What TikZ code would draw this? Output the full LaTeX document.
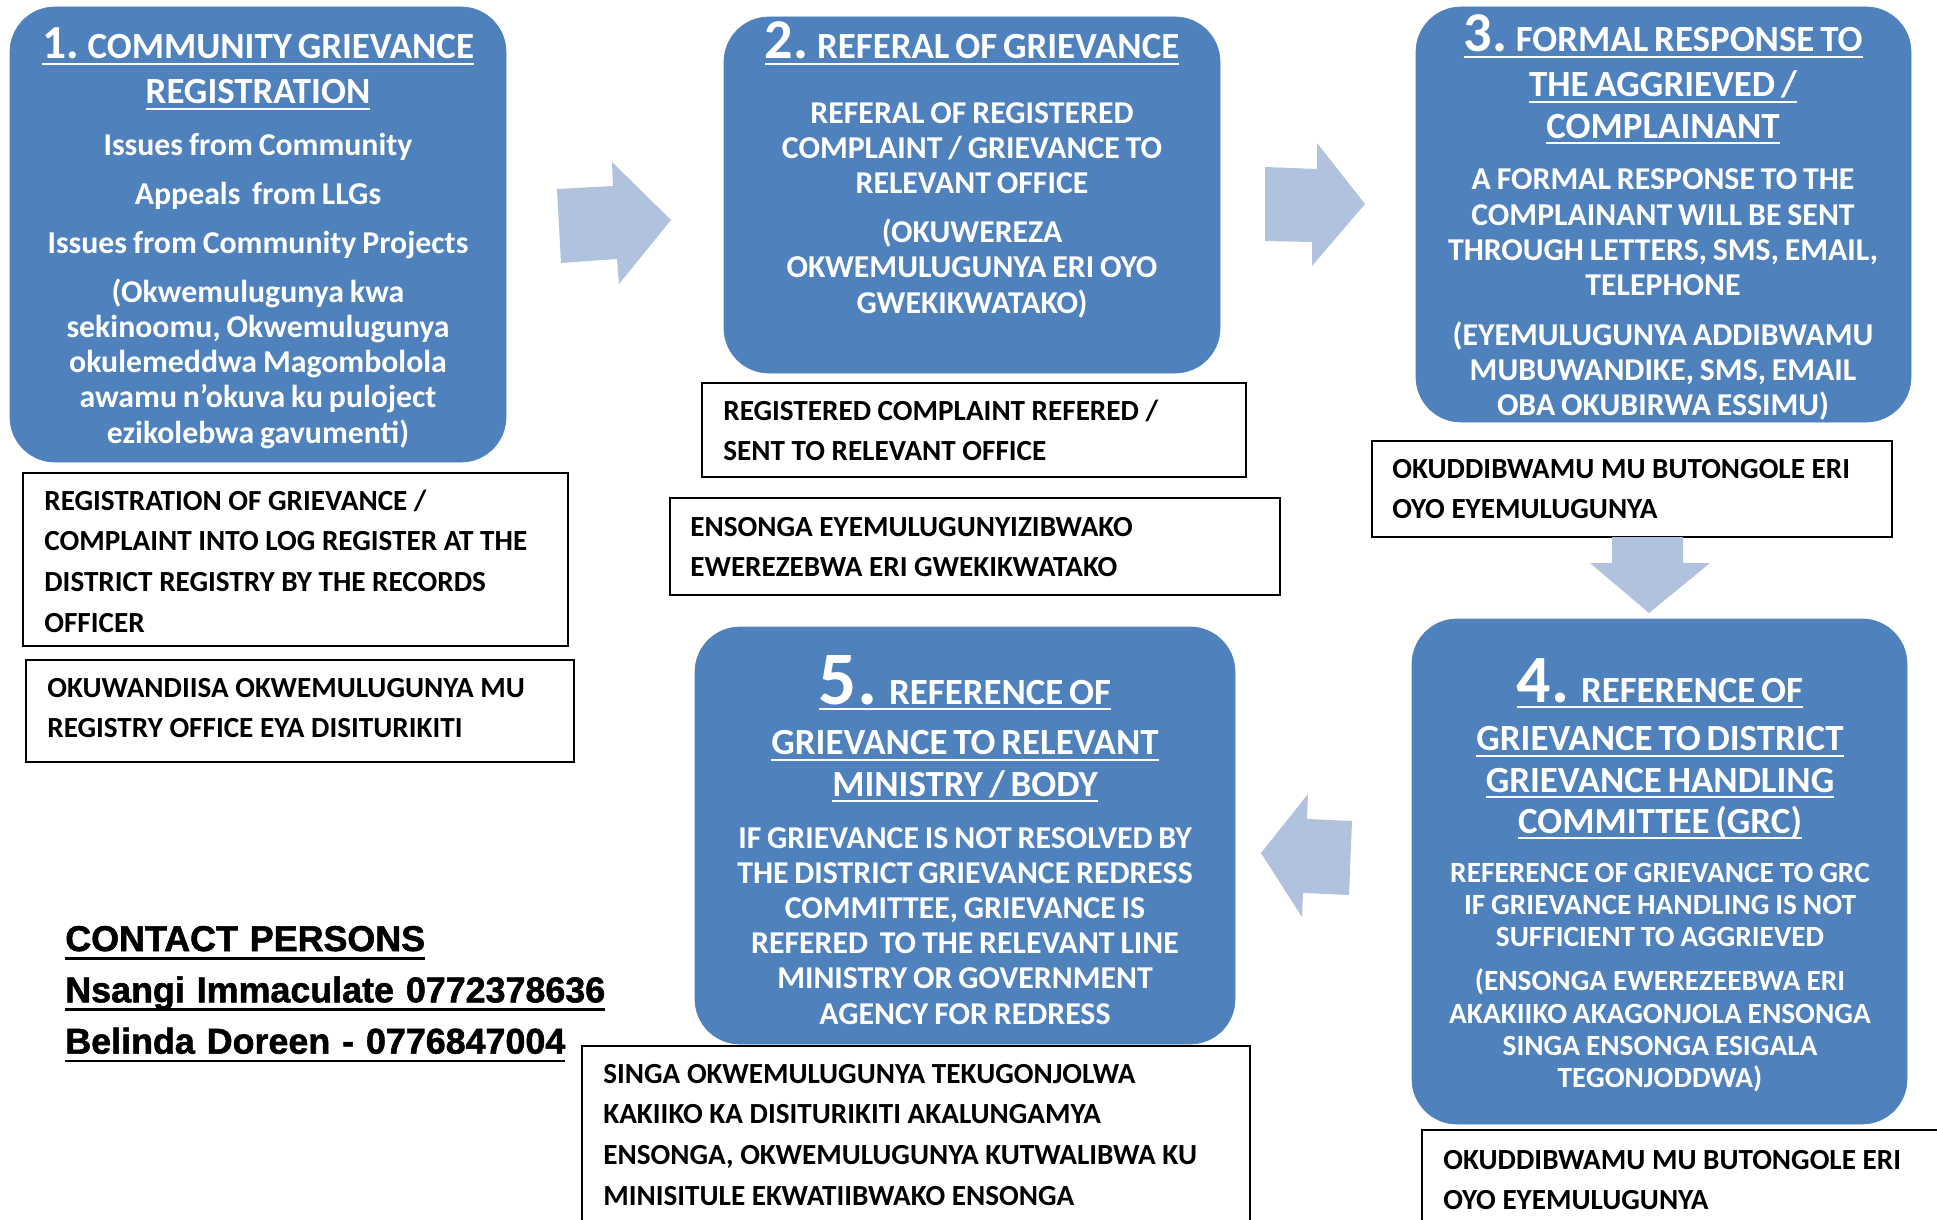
\documentclass[tikz,border=0pt]{standalone}
\usepackage{fontspec}
\setmainfont{Carlito}
\newfontfamily\contactfont{Liberation Sans}[BoldFeatures={FakeBold=1.5}]
\usetikzlibrary{fit}
\definecolor{boxblue}{RGB}{79,129,189}
\definecolor{arrowblue}{RGB}{176,194,222}
\newsavebox{\ulbox}
% underline: [thickness][drop below baseline]{text}
\newcommand{\uln}[3][1.1pt]{\leavevmode\sbox{\ulbox}{#3}%
  \rlap{\rule[-#2]{\wd\ulbox}{#1}}\usebox{\ulbox}}
\newcommand{\ttl}[1]{\uln{3.4pt}{#1}}
\newcommand{\ttlfont}{\fontsize{21pt}{23.5pt}\selectfont}
\newcommand{\bodyfont}{\fontsize{18.1pt}{20pt}\selectfont}
\newcommand{\smallbody}{\fontsize{16.7pt}{18.4pt}\selectfont}
\newcommand{\notefont}{\fontsize{16.6pt}{23.2pt}\selectfont}
\newcommand{\stepgap}[1]{\par\vspace{#1}}

\begin{document}
\begin{tikzpicture}[
    x=0.02cm, y=-0.02cm,
    stepbox/.style={fill=boxblue, draw=boxblue, rounded corners=0.9cm, inner sep=0pt},
    steptext/.style={anchor=base, align=center, inner sep=0pt, text=white,
      text width=9.6cm, font=\bfseries},
    notebox/.style={draw, line width=1pt, inner sep=0pt},
    notetext/.style={anchor=base west, align=flush left, inner sep=0pt,
      text width=13cm, font=\bfseries\notefont},
    blockarrow/.style={fill=arrowblue}
  ]
  \useasboundingbox (0,0) rectangle (1937,1220);

  % the five steps
  \node[stepbox, fit={(10,7) (506,462)}] (reg) {};
  \node[stepbox, fit={(724,17) (1220,373)}] (refer) {};
  \node[stepbox, fit={(1416,7) (1911,422)}] (reply) {};
  \node[stepbox, fit={(1412,619) (1907,1124)}] (grc) {};
  \node[stepbox, fit={(695,627) (1235,1044)}] (ministry) {};

  \node[steptext] (regtxt) at (258,59)
    {\ttlfont\ttl{{\fontsize{27pt}{27pt}\selectfont 1.} COMMUNITY GRIEVANCE}\\[2pt]
     \ttl{REGISTRATION}\stepgap{9.7pt}
     \bodyfont Issues from Community\stepgap{7.8pt}
     Appeals\ \ from LLGs\stepgap{7.8pt}
     Issues from Community Projects\stepgap{7.8pt}
     (Okwemulugunya kwa\\ sekinoomu, Okwemulugunya\\ okulemeddwa Magombolola\\
     awamu n'okuva ku puloject\\ ezikolebwa gavumenti)\par};

  \node[steptext] (refertxt) at (972,59)
    {\ttlfont\ttl{{\fontsize{32pt}{32pt}\selectfont 2.} REFERAL OF GRIEVANCE}\stepgap{16.8pt}
     \bodyfont REFERAL OF REGISTERED\\ COMPLAINT / GRIEVANCE TO\\ RELEVANT OFFICE\stepgap{7.8pt}
     (OKUWEREZA\\ OKWEMULUGUNYA ERI OYO\\ GWEKIKWATAKO)\par};

  \node[steptext] (replytxt) at (1663,52)
    {\ttlfont\ttl{{\fontsize{32pt}{32pt}\selectfont 3.} FORMAL RESPONSE TO}\\[2pt]
     \ttl{THE AGGRIEVED /}\\ \ttl{COMPLAINANT}\stepgap{9.5pt}
     \bodyfont A FORMAL RESPONSE TO THE\\ COMPLAINANT WILL BE SENT\\
     THROUGH LETTERS, SMS, EMAIL,\\ TELEPHONE\stepgap{8.3pt}
     (EYEMULUGUNYA ADDIBWAMU\\ MUBUWANDIKE, SMS, EMAIL\\ OBA OKUBIRWA ESSIMU)\par};

  \node[steptext] (grctxt) at (1660,702)
    {\ttlfont\ttl{{\fontsize{38.5pt}{38.5pt}\selectfont 4.}\ \ REFERENCE OF}\\[4.3pt]
     \ttl{GRIEVANCE TO DISTRICT}\\ \ttl{GRIEVANCE HANDLING}\\
     \ttl{COMMITTEE (GRC)}\stepgap{9.4pt}
     \smallbody REFERENCE OF GRIEVANCE TO GRC\\ IF GRIEVANCE HANDLING IS NOT\\
     SUFFICIENT TO AGGRIEVED\stepgap{6.5pt}
     (ENSONGA EWEREZEEBWA ERI\\ AKAKIIKO AKAGONJOLA ENSONGA\\
     SINGA ENSONGA ESIGALA\\ TEGONJODDWA)\par};

  \node[steptext, text width=10.6cm] (ministrytxt) at (965,704)
    {\ttlfont\ttl{{\fontsize{43pt}{43pt}\selectfont 5.}\ \ REFERENCE OF}\\[5.4pt]
     \ttl{GRIEVANCE TO RELEVANT}\\ \ttl{MINISTRY / BODY}\stepgap{9.8pt}
     \bodyfont IF GRIEVANCE IS NOT RESOLVED BY\\ THE DISTRICT GRIEVANCE REDRESS\\
     COMMITTEE, GRIEVANCE IS\\ REFERED\ \ TO THE RELEVANT LINE\\
     MINISTRY OR GOVERNMENT\\ AGENCY FOR REDRESS\par};

  % notes under the steps
  \node[notebox, fit={(23,473) (568,646)}] (regnote) {};
  \node[notetext] (regnotetxt) at (44,510)
    {REGISTRATION OF GRIEVANCE /\\ COMPLAINT INTO LOG REGISTER AT THE\\
     DISTRICT REGISTRY BY THE RECORDS\\ OFFICER};
  \node[notebox, fit={(26,660) (574,762)}] (regluganda) {};
  \node[notetext] (reglugandatxt) at (47,697)
    {OKUWANDIISA OKWEMULUGUNYA MU\\ REGISTRY OFFICE EYA DISITURIKITI};

  \node[notebox, fit={(702,383) (1246,477)}] (refernote) {};
  \node[notetext] (refernotetxt) at (723,420)
    {REGISTERED COMPLAINT REFERED /\\ SENT TO RELEVANT OFFICE};
  \node[notebox, fit={(670,498) (1280,595)}] (referluganda) {};
  \node[notetext] (referlugandatxt) at (690,536)
    {ENSONGA EYEMULUGUNYIZIBWAKO\\ EWEREZEBWA ERI GWEKIKWATAKO};

  \node[notebox, fit={(1372,441) (1892,537)}] (replyluganda) {};
  \node[notetext] (replylugandatxt) at (1392,478)
    {OKUDDIBWAMU MU BUTONGOLE ERI\\ OYO EYEMULUGUNYA};

  \node[notebox, fit={(1422,1130) (1960,1240)}] (grcluganda) {};
  \node[notetext] (grclugandatxt) at (1443,1169)
    {OKUDDIBWAMU MU BUTONGOLE ERI\\ OYO EYEMULUGUNYA};

  \node[notebox, fit={(582,1046) (1250,1240)}] (ministryluganda) {};
  \node[notetext] (ministrylugandatxt) at (603,1083)
    {SINGA OKWEMULUGUNYA TEKUGONJOLWA\\ KAKIIKO KA DISITURIKITI AKALUNGAMYA\\
     ENSONGA, OKWEMULUGUNYA KUTWALIBWA KU\\ MINISITULE EKWATIIBWAKO ENSONGA};

  % contacts
  \node[anchor=base west, align=left, inner sep=0pt, text width=14cm,
    font=\contactfont\bfseries\fontsize{20.4pt}{29.2pt}\selectfont] (contacts) at (65,951)
    {\uln[1.6pt]{5pt}{CONTACT PERSONS}\\
     \uln[1.6pt]{5pt}{Nsangi Immaculate 0772378636}\\
     \uln[1.6pt]{5pt}{Belinda Doreen - 0776847004}\par};

  % block arrows
  \fill[blockarrow] (557,189) -- (613,186) -- (612,162) -- (671,220) -- (619,284)
    -- (617,259) -- (561,263) -- cycle;
  \fill[blockarrow] (1265,167) -- (1317,169) -- (1317,143) -- (1365,204) -- (1312,266)
    -- (1312,242) -- (1265,241) -- cycle;
  \fill[blockarrow] (1612,537) -- (1683,537) -- (1683,563) -- (1710,563) -- (1649,613)
    -- (1590,563) -- (1612,563) -- cycle;
  \fill[blockarrow] (1308,794) -- (1307,819) -- (1352,821) -- (1349,895) -- (1303,893)
    -- (1302,917) -- (1261,853) -- cycle;
\end{tikzpicture}
\end{document}
